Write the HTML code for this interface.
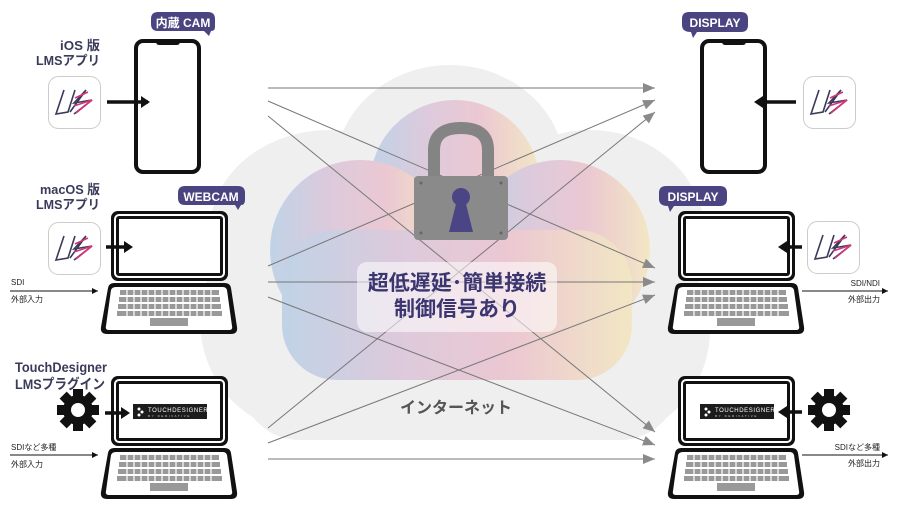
<!DOCTYPE html>
<html><head><meta charset="utf-8"><style>
html,body{margin:0;padding:0;background:#fff;}
svg{display:block;font-family:"Liberation Sans","Noto Sans CJK JP",sans-serif;}
</style></head><body>
<svg width="900" height="511" viewBox="0 0 900 511" xmlns="http://www.w3.org/2000/svg">
<defs>
<linearGradient id="cg" x1="0" x2="1" y1="0" y2="0">
<stop offset="0" stop-color="#bcd0e6"/><stop offset="0.35" stop-color="#dcc6da"/><stop offset="0.65" stop-color="#ebc4cf"/><stop offset="1" stop-color="#f3e6c0"/>
</linearGradient>
<marker id="ah" markerWidth="12" markerHeight="10" refX="12" refY="5" orient="auto" markerUnits="userSpaceOnUse"><path d="M0,0 L12,5 L0,10 Z" fill="#8a8a8a"/></marker>
<marker id="bh" markerWidth="6" markerHeight="6" refX="6" refY="3" orient="auto" markerUnits="userSpaceOnUse"><path d="M0,0 L6,3 L0,6 Z" fill="#111"/></marker>
<g id="lap">
<rect x="11" y="1" width="117" height="70" rx="7" fill="#111"/>
<rect x="14" y="4" width="111" height="64" rx="5" fill="#fff"/>
<rect x="16" y="6" width="107" height="60" rx="3" fill="#111"/>
<rect x="19" y="9" width="101" height="54" fill="#fff"/>
<path d="M14,73 L125,73 Q130,73 131,78 L137,117 Q138,124 131,124 L7,124 Q0,124 1,117 L8,78 Q9,73 14,73 Z" fill="#111"/>
<path d="M16,77 L123,77 Q126,77 127,80 L132,116 Q133,120 129,120 L9,120 Q5,120 6,116 L11,80 Q12,77 16,77 Z" fill="#fff"/>
<g fill="#999">
<rect x="20" y="80" width="99" height="5"/><rect x="19" y="87" width="101" height="5"/><rect x="18" y="94" width="103" height="5"/><rect x="17" y="101" width="105" height="5"/>
<rect x="50" y="108" width="38" height="8"/>
</g>
<g stroke="#fff" stroke-width="1.2">
<path d="M27,80V106 M34,80V106 M41,80V106 M48,80V106 M55,80V106 M62,80V106 M69,80V106 M76,80V106 M83,80V106 M90,80V106 M97,80V106 M104,80V106 M111,80V106"/>
</g>
</g>
<g id="phone">
<rect x="2" y="2" width="63" height="131" rx="7" fill="#fff" stroke="#111" stroke-width="4"/>
<rect x="22" y="0" width="24" height="6" rx="3" fill="#111"/>
</g>
<g id="icon">
<rect x="0.5" y="0.5" width="52" height="52" rx="10" fill="#fff" stroke="#ccc"/>
<path d="M16,14 L8,38 L20,36 L27,14 M22,36 L38,14 L26,27 L44,24 L26,38" fill="none" stroke="#3a3a5a" stroke-width="1.6"/>
<path d="M27,22 L40,16 M26,30 L44,24 L28,37" fill="none" stroke="#d2357a" stroke-width="1.6"/>
</g>
<g id="gear">
<circle cx="21" cy="21" r="15" fill="#111"/>
<g fill="#111">
<rect x="16" y="0" width="10" height="42"/><rect x="0" y="16" width="42" height="10"/>
<rect x="16" y="0" width="10" height="42" transform="rotate(45 21 21)"/><rect x="16" y="0" width="10" height="42" transform="rotate(-45 21 21)"/>
</g>
<circle cx="21" cy="21" r="7" fill="#fff"/>
</g>
<g id="td">
<rect x="0" y="0" width="74" height="15" fill="#1c1c1c"/>
<circle cx="6" cy="5" r="1.5" fill="#fff"/><circle cx="9" cy="8" r="1.5" fill="#fff"/><circle cx="6" cy="11" r="1.5" fill="#fff"/>
<text x="15" y="8" font-size="6" fill="#fff" letter-spacing="0.6">TOUCHDESIGNER</text>
<text x="15" y="13" font-size="3" fill="#ccc" letter-spacing="1.6">BY DERIVATIVE</text>
</g>
</defs>

<!-- cloud -->
<g fill="#efefef">
<ellipse cx="450" cy="170" rx="115" ry="105"/>
<ellipse cx="330" cy="230" rx="120" ry="100"/>
<ellipse cx="590" cy="235" rx="115" ry="105"/>
<ellipse cx="300" cy="320" rx="100" ry="110"/>
<ellipse cx="600" cy="330" rx="110" ry="110"/>
<rect x="240" y="240" width="440" height="200" rx="60"/>
</g>
<g fill="url(#cg)" opacity="0.9">
<ellipse cx="455" cy="185" rx="85" ry="85"/>
<ellipse cx="360" cy="250" rx="90" ry="90"/>
<ellipse cx="560" cy="250" rx="90" ry="90"/>
<rect x="282" y="230" width="350" height="150" rx="55"/>
</g>

<!-- lines -->
<g stroke="#777" stroke-width="1" fill="none" marker-end="url(#ah)">
<line x1="268" y1="88" x2="655" y2="88"/>
<line x1="268" y1="101" x2="655" y2="268"/>
<line x1="268" y1="116" x2="655" y2="432"/>
<line x1="268" y1="266" x2="655" y2="100"/>
<line x1="268" y1="282" x2="655" y2="282"/>
<line x1="268" y1="297" x2="655" y2="445"/>
<line x1="268" y1="428" x2="655" y2="112"/>
<line x1="268" y1="443" x2="655" y2="295"/>
<line x1="268" y1="459" x2="655" y2="459"/>
</g>

<!-- lock -->
<path d="M434,180 V150 Q434,128 461,128 Q488,128 488,150 V180" fill="none" stroke="#848484" stroke-width="12"/>
<rect x="414" y="176" width="94" height="64" rx="4" fill="#8a8a8a"/>
<circle cx="421" cy="183" r="1.5" fill="#666"/><circle cx="501" cy="183" r="1.5" fill="#666"/><circle cx="421" cy="233" r="1.5" fill="#666"/><circle cx="501" cy="233" r="1.5" fill="#666"/>
<circle cx="461" cy="197" r="9" fill="#4b4585"/>
<path d="M457,200 L465,200 L473,232 L449,232 Z" fill="#4b4585"/>

<rect x="357" y="262" width="200" height="70" rx="10" fill="#fff" opacity="0.55"/>
<text x="457" y="290" text-anchor="middle" font-size="21" font-weight="bold" fill="#3c3670">超低遅延･簡単接続</text>
<text x="457" y="316" text-anchor="middle" font-size="21" font-weight="bold" fill="#3c3670">制御信号あり</text>
<text x="456" y="413" text-anchor="middle" font-size="16" font-weight="bold" fill="#555">インターネット</text>

<!-- left side -->
<g font-size="13" font-weight="bold" fill="#3a3a5a">
<text x="60" y="50" textLength="40" lengthAdjust="spacingAndGlyphs">iOS 版</text><text x="36" y="65" textLength="64" lengthAdjust="spacingAndGlyphs">LMSアプリ</text>
<text x="40" y="194" textLength="60" lengthAdjust="spacingAndGlyphs">macOS 版</text><text x="36" y="209" textLength="64" lengthAdjust="spacingAndGlyphs">LMSアプリ</text>
</g>
<text x="15" y="372" font-size="14" font-weight="bold" fill="#3a3a5a" textLength="92" lengthAdjust="spacingAndGlyphs">TouchDesigner</text>
<text x="15" y="389" font-size="14" font-weight="bold" fill="#3a3a5a" textLength="90" lengthAdjust="spacingAndGlyphs">LMSプラグイン</text>

<use href="#phone" x="134" y="39"/>
<use href="#icon" x="48" y="76"/>
<line x1="107" y1="102" x2="148" y2="102" stroke="#111" stroke-width="3.5"/><path d="M141,96 L150,102 L141,108 Z" fill="#111"/>
<path d="M158,12 H208 Q215,12 215,19 V27 Q215,31 211,31 L209,36 L204,31 H158 Q151,31 151,24 V19 Q151,12 158,12Z" fill="#4a4480"/>
<text x="183" y="27" text-anchor="middle" font-size="12" font-weight="bold" fill="#fff">内蔵 CAM</text>

<use href="#lap" x="100" y="210"/>
<use href="#icon" x="48" y="222"/>
<line x1="106" y1="247" x2="128" y2="247" stroke="#111" stroke-width="3.5"/><path d="M124,241 L133,247 L124,253 Z" fill="#111"/>
<path d="M185,186 H238 Q245,186 245,193 V200 Q245,205 241,205 L238,210 L235,205 H185 Q178,205 178,198 V193 Q178,186 185,186Z" fill="#4a4480"/>
<text x="211" y="201" text-anchor="middle" font-size="12" font-weight="bold" fill="#fff">WEBCAM</text>
<text x="11" y="285" font-size="8" fill="#222">SDI</text>
<line x1="10" y1="291" x2="98" y2="291" stroke="#111" stroke-width="1" marker-end="url(#bh)"/>
<text x="11" y="302" font-size="8" fill="#222">外部入力</text>

<use href="#lap" x="100" y="375"/>
<use href="#gear" x="57" y="389"/>
<line x1="105" y1="413" x2="124" y2="413" stroke="#111" stroke-width="3.5"/><path d="M121,407 L130,413 L121,419 Z" fill="#111"/>
<use href="#td" x="133" y="404"/>
<text x="11" y="450" font-size="8" fill="#222">SDIなど多種</text>
<line x1="10" y1="455" x2="98" y2="455" stroke="#111" stroke-width="1" marker-end="url(#bh)"/>
<text x="11" y="467" font-size="8" fill="#222">外部入力</text>

<!-- right side -->
<use href="#phone" x="700" y="39"/>
<use href="#icon" x="803" y="76"/>
<line x1="796" y1="102" x2="760" y2="102" stroke="#111" stroke-width="3.5"/><path d="M763,96 L754,102 L763,108 Z" fill="#111"/>
<path d="M689,12 H741 Q748,12 748,19 V25 Q748,32 741,32 H697 L693,38 L691,32 Q682,32 682,25 V19 Q682,12 689,12Z" fill="#4a4480"/>
<text x="715" y="27" text-anchor="middle" font-size="12" font-weight="bold" fill="#fff">DISPLAY</text>

<use href="#lap" x="667" y="210"/>
<use href="#icon" x="807" y="221"/>
<line x1="802" y1="247" x2="785" y2="247" stroke="#111" stroke-width="3.5"/><path d="M787,241 L778,247 L787,253 Z" fill="#111"/>
<path d="M666,186 H720 Q727,186 727,193 V199 Q727,206 720,206 H674 L670,212 L668,206 Q659,206 659,199 V193 Q659,186 666,186Z" fill="#4a4480"/>
<text x="693" y="201" text-anchor="middle" font-size="12" font-weight="bold" fill="#fff">DISPLAY</text>
<text x="880" y="286" text-anchor="end" font-size="8" fill="#222">SDI/NDI</text>
<line x1="802" y1="291" x2="888" y2="291" stroke="#111" stroke-width="1" marker-end="url(#bh)"/>
<text x="880" y="302" text-anchor="end" font-size="8" fill="#222">外部出力</text>

<use href="#lap" x="667" y="375"/>
<use href="#td" x="700" y="404"/>
<use href="#gear" x="808" y="389"/>
<line x1="802" y1="412" x2="785" y2="412" stroke="#111" stroke-width="3.5"/><path d="M787,406 L778,412 L787,418 Z" fill="#111"/>
<text x="880" y="450" text-anchor="end" font-size="8" fill="#222">SDIなど多種</text>
<line x1="802" y1="455" x2="888" y2="455" stroke="#111" stroke-width="1" marker-end="url(#bh)"/>
<text x="880" y="466" text-anchor="end" font-size="8" fill="#222">外部出力</text>
</svg>
</body></html>
